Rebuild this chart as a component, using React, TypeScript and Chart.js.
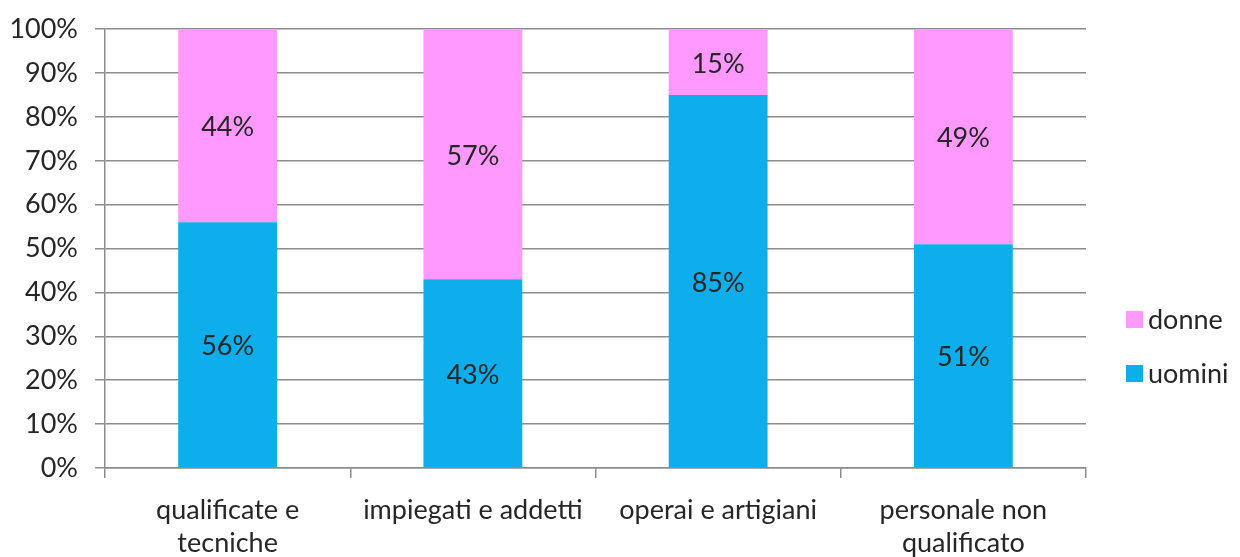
import React, { useEffect, useRef } from "react";
import { Chart, registerables } from "chart.js";

Chart.register(...registerables);

const categories: (string | string[])[] = [
  ["qualificate e", "tecniche"],
  "impiegati e addetti",
  "operai e artigiani",
  ["personale non", "qualificato"],
];
const uomini = [56, 43, 85, 51];
const donne = [44, 57, 15, 49];
const seriesNames = ["uomini", "donne"];
const seriesColors = ["#0DAEEB", "#FF99FF"];

const FONT = "Lato, 'Open Sans', sans-serif";
const FS = 27;
const TEXT = "#262626";
const GRID = "#8c8c8c";

const PLOT_LEFT = 105;
const PLOT_RIGHT = 1086;
const PLOT_BOTTOM = 468;
const W = 1240;
const H = 557;

const dataLabelPlugin = {
  id: "dataLabels",
  afterDatasetsDraw(chart: any) {
    const ctx = chart.ctx;
    ctx.save();
    ctx.font = `${FS}px ${FONT}`;
    ctx.fillStyle = TEXT;
    ctx.textAlign = "center";
    ctx.textBaseline = "middle";
    chart.data.datasets.forEach((ds: any, di: number) => {
      const meta = chart.getDatasetMeta(di);
      meta.data.forEach((bar: any, i: number) => {
        const { x, y, base } = bar.getProps(["x", "y", "base"], true);
        ctx.fillText(`${ds.data[i]}%`, x, (y + base) / 2 + 2);
      });
    });
    ctx.restore();
  },
};

const legendPlugin = {
  id: "customLegend",
  afterDraw(chart: any) {
    const ctx = chart.ctx;
    ctx.save();
    ctx.font = `${FS}px ${FONT}`;
    ctx.textBaseline = "middle";
    ctx.textAlign = "left";
    const items = chart.data.datasets.map((d: any) => ({ label: d.label, color: d.backgroundColor })).reverse();
    const x0 = 1126;
    const ys = [319, 373];
    items.forEach((it: any, i: number) => {
      ctx.fillStyle = it.color;
      ctx.fillRect(x0, ys[i] - 8, 17, 17);
      ctx.fillStyle = TEXT;
      ctx.fillText(it.label, x0 + 22, ys[i] + 1);
    });
    ctx.restore();
  },
};

export default function App() {
  const ref = useRef<HTMLCanvasElement>(null);
  useEffect(() => {
    if (!ref.current) return;
    const chart = new Chart(ref.current, {
      type: "bar",
      data: {
        labels: categories,
        datasets: [
          { label: seriesNames[0], data: uomini, backgroundColor: seriesColors[0], categoryPercentage: 1, barPercentage: 0.403 },
          { label: seriesNames[1], data: donne, backgroundColor: seriesColors[1], categoryPercentage: 1, barPercentage: 0.403 },
        ],
      },
      options: {
        animation: false,
        responsive: false,
        maintainAspectRatio: false,
        layout: { padding: { left: 0, right: W - PLOT_RIGHT, top: 0, bottom: 0 } },
        plugins: { legend: { display: false }, tooltip: { enabled: false } },
        scales: {
          x: {
            stacked: true,
            offset: true,
            grid: { display: true, drawOnChartArea: false, offset: true, tickLength: 10, color: GRID, lineWidth: 1.5 },
            border: { color: GRID, width: 1.5 },
            ticks: { color: TEXT, font: { family: FONT, size: FS, lineHeight: 1.25 }, padding: 15, maxRotation: 0, autoSkip: false },
            afterFit: (s: any) => { s.height = H - PLOT_BOTTOM; },
          },
          y: {
            stacked: true,
            min: 0,
            max: 100,
            grid: { color: GRID, tickLength: 10, lineWidth: 1.5 },
            border: { color: GRID, width: 1.5 },
            ticks: { stepSize: 10, color: TEXT, font: { family: FONT, size: FS, lineHeight: 0.9 }, padding: 17, callback: (v: any) => `${v}%` },
            afterFit: (s: any) => { s.width = PLOT_LEFT; },
          },
        },
      },
      plugins: [dataLabelPlugin, legendPlugin],
    });
    return () => chart.destroy();
  }, []);
  return (
    <div style={{ position: "absolute", left: 0, top: 0, width: W, height: H, background: "#fff" }}>
      <canvas ref={ref} width={W} height={H} style={{ width: W, height: H }} />
    </div>
  );
}
